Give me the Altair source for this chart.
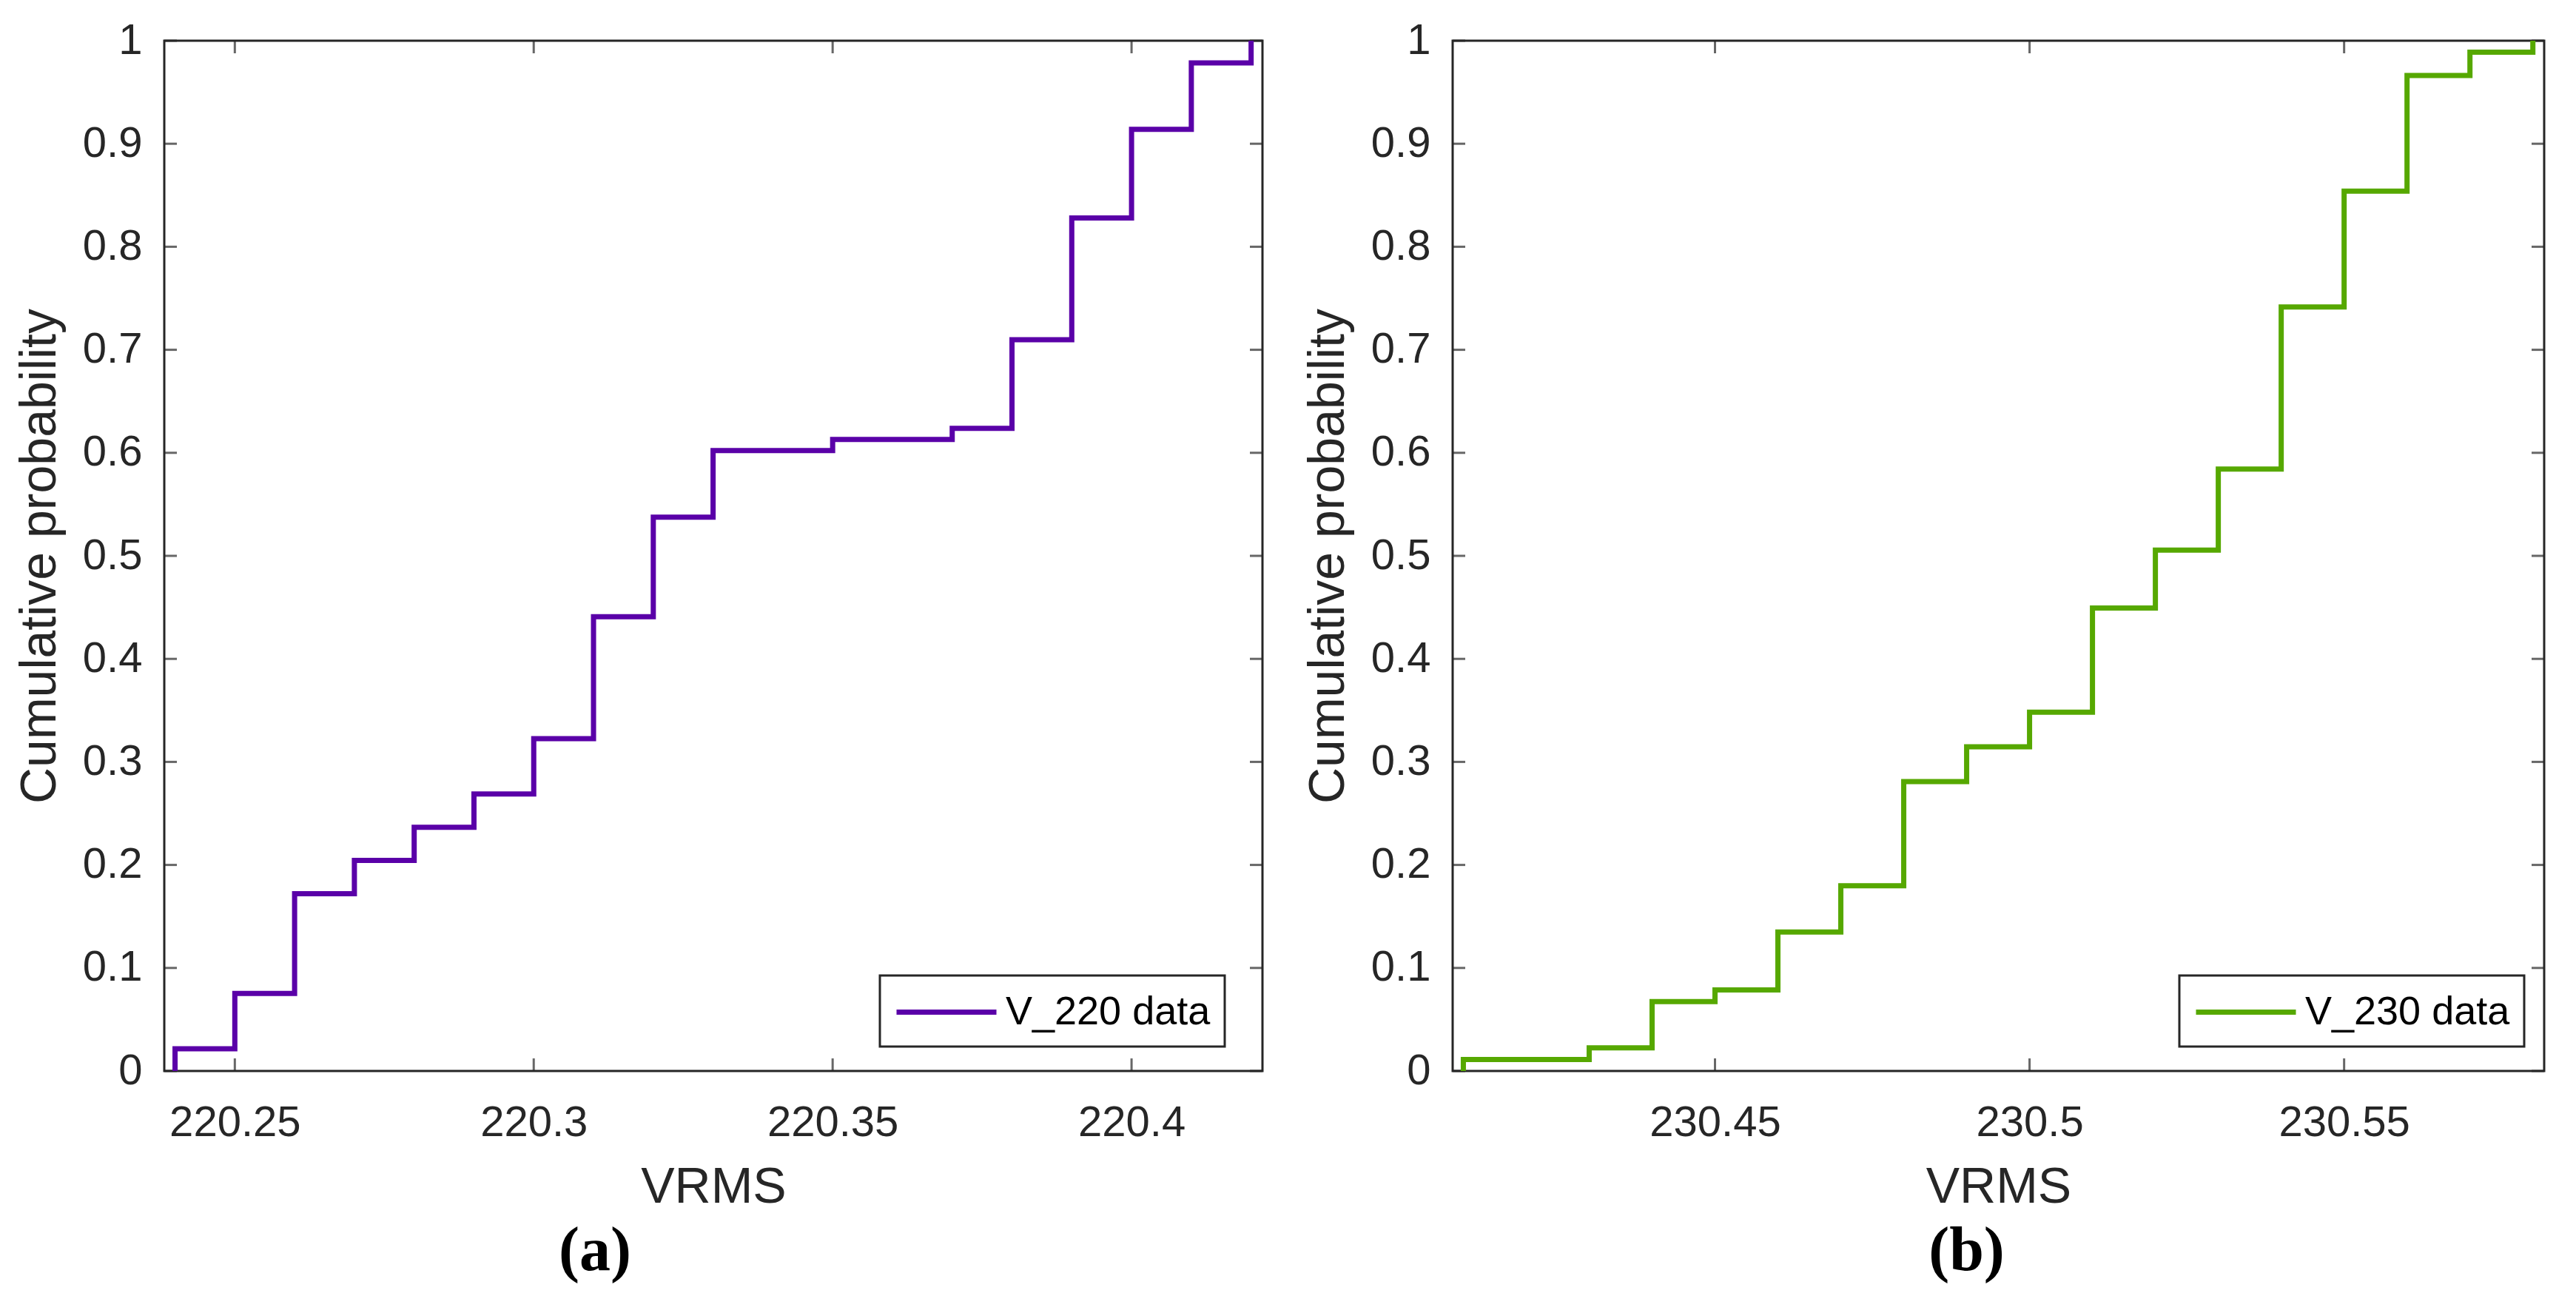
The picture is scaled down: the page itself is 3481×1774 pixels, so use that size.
import altair as alt
import pandas as pd

# ---- data ----
v220_x = [220.24, 220.25, 220.26, 220.27, 220.28, 220.29, 220.30, 220.31, 220.32,
          220.33, 220.35, 220.37, 220.38, 220.39, 220.40, 220.41, 220.42]
v220_p = [0.0215, 0.0753, 0.1720, 0.2043, 0.2366, 0.2688, 0.3226, 0.4409, 0.5376,
          0.6022, 0.6129, 0.6237, 0.7097, 0.8280, 0.9140, 0.9785, 1.0]

v230_x = [230.41, 230.43, 230.44, 230.45, 230.46, 230.47, 230.48, 230.49, 230.50,
          230.51, 230.52, 230.53, 230.54, 230.55, 230.56, 230.57, 230.58]
v230_p = [0.0112, 0.0225, 0.0674, 0.0787, 0.1348, 0.1798, 0.2809, 0.3146, 0.3483,
          0.4494, 0.5056, 0.5843, 0.7416, 0.8539, 0.9663, 0.9888, 1.0]

x220_ticks = [220.25, 220.3, 220.35, 220.4]
x230_ticks = [230.45, 230.5, 230.55]
y_ticks = [0, 0.1, 0.2, 0.3, 0.4, 0.5, 0.6, 0.7, 0.8, 0.9, 1]

AX = "#262626"
FONT = "Liberation Sans"
H = 1392


def panel(xs, ps, name, color, xdomain, xticks, width, legend_x, label, title_dx):
    df = pd.DataFrame({"x": [xs[0]] + xs, "y": [0.0] + ps, "series": name})
    xenc = alt.X("x:Q", scale=alt.Scale(domain=xdomain, nice=False, zero=False),
                 axis=alt.Axis(values=xticks, format="~g", title="VRMS", grid=False,
                               ticks=False, domain=False, labelFlush=False,
                               labelOverlap=False, labelFontSize=58, labelFont=FONT,
                               labelColor=AX, labelPadding=41, titleFont=FONT,
                               titleFontSize=68, titleFontWeight="normal",
                               titleColor=AX, titlePadding=24))
    yenc = alt.Y("y:Q", scale=alt.Scale(domain=[0, 1], nice=False),
                 axis=alt.Axis(values=y_ticks, format="~g", title="Cumulative probability",
                               grid=False, ticks=False, domain=False, labelFlush=False,
                               labelOverlap=False, labelFontSize=58, labelFont=FONT,
                               labelColor=AX, labelPadding=30, titleFont=FONT,
                               titleFontSize=68, titleFontWeight="normal",
                               titleColor=AX, titlePadding=23))
    line = alt.Chart(df).mark_line(interpolate="step-after", strokeWidth=7).encode(
        x=xenc, y=yenc,
        color=alt.Color("series:N", scale=alt.Scale(domain=[name], range=[color]),
                        legend=alt.Legend(title=None, orient="none", legendX=legend_x,
                                          legendY=1263, symbolType="M-1,0H4",
                                          symbolSize=54 * 54, symbolStrokeWidth=7,
                                          labelFontSize=54, labelFont=FONT,
                                          labelColor="black", labelOffset=90,
                                          labelLimit=0, padding=19, strokeColor=AX,
                                          fillColor="white")),
    )
    xt = pd.DataFrame({"x": xticks})
    yt = pd.DataFrame({"y": y_ticks})
    tb = alt.Chart(xt).mark_tick(orient="vertical", size=17, thickness=3, color=AX).encode(
        x=xenc, y=alt.value(H - 8.5))
    tt = alt.Chart(xt).mark_tick(orient="vertical", size=17, thickness=3, color=AX).encode(
        x=xenc, y=alt.value(8.5))
    tl = alt.Chart(yt).mark_tick(orient="horizontal", size=17, thickness=3, color=AX).encode(
        y=yenc, x=alt.value(8.5))
    tr = alt.Chart(yt).mark_tick(orient="horizontal", size=17, thickness=3, color=AX).encode(
        y=yenc, x=alt.value(width - 8.5))
    return alt.layer(tb, tt, tl, tr, line).properties(
        width=width, height=H,
        title=alt.TitleParams(label, orient="bottom", frame="group", font="Liberation Serif",
                              fontSize=84, fontWeight="bold", color="black", offset=12,
                              dx=title_dx),
    )


left = panel(v220_x, v220_p, "V_220 data", "#5a00a8", [220.2382, 220.4219], x220_ticks,
             1484, 967, "(a)", -160)
right = panel(v230_x, v230_p, "V_230 data", "#56a800", [230.4083, 230.5818], x230_ticks,
              1475, 982, "(b)", -43)

chart = alt.hconcat(left, right, spacing=51).resolve_scale(
    color="independent", x="independent", y="independent"
).properties(
    padding={"left": 10, "top": 16, "right": 5, "bottom": 5}
).configure_view(stroke=AX, strokeWidth=3).configure_legend(strokeWidth=3)

chart.save("out.html", embed_options={"renderer": "svg", "actions": False})
